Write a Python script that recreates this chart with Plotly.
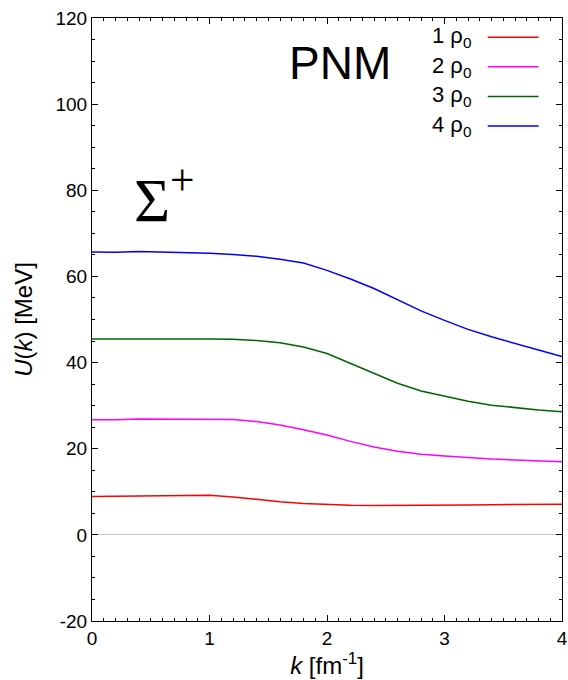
import plotly.graph_objects as go

k = [0.0, 0.2, 0.4, 0.6, 0.8, 1.0, 1.2, 1.4, 1.6, 1.8, 2.0, 2.2, 2.4, 2.6, 2.8, 3.0, 3.2, 3.4, 3.6, 3.8, 4.0]

u_1rho = [8.9, 8.9, 9.0, 9.1, 9.2, 9.2, 8.8, 8.2, 7.7, 7.3, 7.0, 6.85, 6.8, 6.8, 6.85, 6.9, 6.95, 7.0, 7.05, 7.1, 7.1]
u_2rho = [26.7, 26.7, 26.9, 26.9, 26.9, 26.9, 26.8, 26.3, 25.5, 24.4, 23.2, 21.7, 20.4, 19.4, 18.7, 18.3, 17.9, 17.6, 17.4, 17.2, 17.0]
u_3rho = [45.5, 45.5, 45.6, 45.6, 45.6, 45.5, 45.4, 45.1, 44.6, 43.6, 42.1, 39.8, 37.4, 35.2, 33.4, 32.2, 31.0, 30.1, 29.5, 29.0, 28.6]
u_4rho = [65.7, 65.6, 65.8, 65.7, 65.5, 65.4, 65.1, 64.7, 64.0, 63.1, 61.4, 59.4, 57.2, 54.6, 52.0, 49.8, 47.7, 46.0, 44.4, 42.9, 41.4]

series_names = ["1 ρ<sub>0</sub>", "2 ρ<sub>0</sub>", "3 ρ<sub>0</sub>", "4 ρ<sub>0</sub>"]
series_vals = [u_1rho, u_2rho, u_3rho, u_4rho]
colors = ["#ff0000", "#ff00ff", "#006400", "#0000ff"]

x_ticks = [0, 1, 2, 3, 4]
y_ticks = [-20, 0, 20, 40, 60, 80, 100, 120]
y_tick_labels = ["-20", "0", "20", "40", "60", "80", "100", "120"]

fig = go.Figure()
for name, vals, c in zip(series_names, series_vals, colors):
    fig.add_trace(go.Scatter(x=k, y=vals, mode="lines", name=name,
                             line=dict(color=c, width=1.5), showlegend=False))

# legend drawn gnuplot-style: text then line sample
leg_y = [0.968, 0.919, 0.870, 0.821]
for name, c, yy in zip(series_names, colors, leg_y):
    fig.add_annotation(xref="paper", yref="paper", x=0.81, y=yy, text=name,
                       showarrow=False, xanchor="right", yanchor="middle",
                       font=dict(family="Liberation Sans", size=22, color="black"))
    fig.add_shape(type="line", xref="paper", yref="paper", x0=0.842, x1=0.95,
                  y0=yy, y1=yy, line=dict(color=c, width=1.5))

fig.add_annotation(xref="paper", yref="paper", x=0.527, y=0.926, text="PNM",
                   showarrow=False, xanchor="center", yanchor="middle",
                   font=dict(family="Liberation Sans", size=46, color="black"))
fig.add_annotation(xref="paper", yref="paper", x=0.085, y=0.707,
                   text="Σ<sup>+</sup>", showarrow=False, xanchor="left", yanchor="middle",
                   font=dict(family="Liberation Serif", size=62, color="black"))

axis_common = dict(showline=True, linecolor="black", linewidth=1, mirror="ticks",
                   ticks="inside", ticklen=6, tickcolor="black", showgrid=False,
                   automargin=False, ticklabeloverflow="allow",
                   tickfont=dict(family="Liberation Sans", size=19, color="black"))

fig.update_xaxes(range=[0, 4], tickvals=x_ticks, zeroline=False,
                 minor=dict(ticks="inside", dtick=0.1, ticklen=3, tickcolor="black", showgrid=False),
                 title=dict(text="<i>k</i> [fm<sup>-1</sup>]", standoff=0,
                            font=dict(family="Liberation Sans", size=24, color="black")),
                 **axis_common)
fig.update_yaxes(range=[-20, 120], tickvals=y_ticks, ticktext=y_tick_labels, zeroline=True,
                 zerolinecolor="#c8c8c8", zerolinewidth=1,
                 minor=dict(ticks="inside", dtick=5, ticklen=3, tickcolor="black", showgrid=False),
                 title=dict(text="<i>U</i>(<i>k</i>) [MeV]", standoff=16,
                            font=dict(family="Liberation Sans", size=24, color="black")),
                 **axis_common)

fig.update_layout(width=568, height=680, plot_bgcolor="white", paper_bgcolor="white",
                  margin=dict(l=92, r=6, t=18, b=59))

fig.write_html("out.html", config={"displayModeBar": False},
               post_script="document.body.style.margin='0';document.body.style.overflow='hidden';")
